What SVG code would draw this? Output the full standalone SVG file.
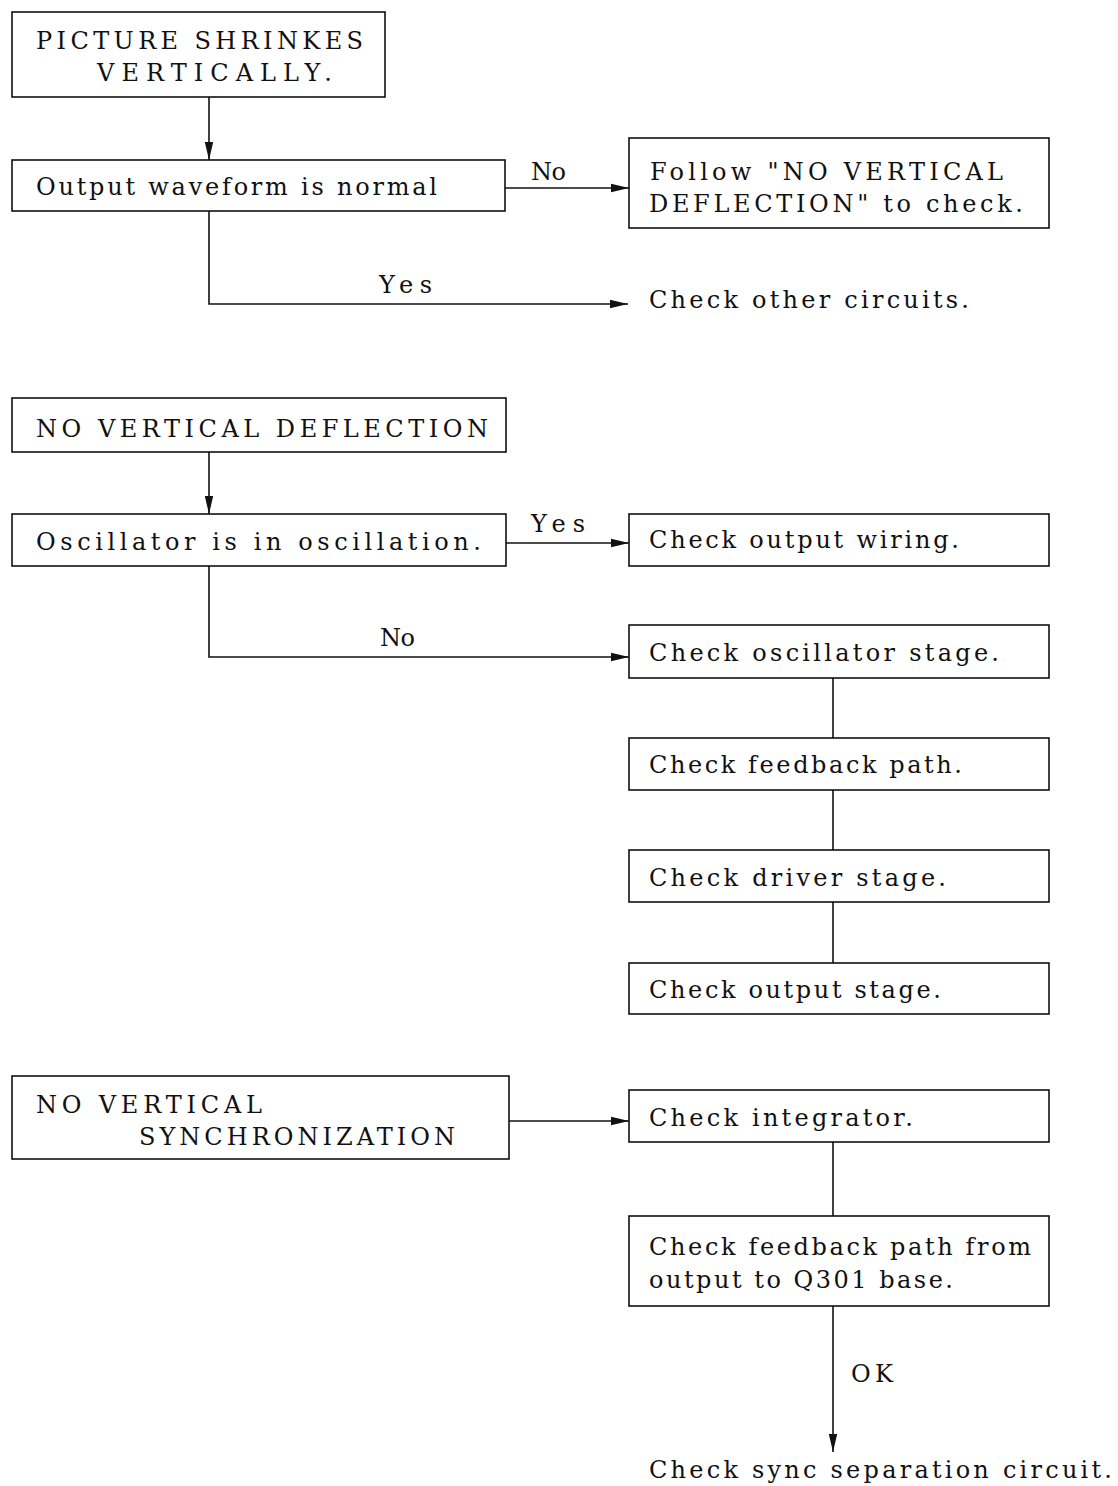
<svg xmlns="http://www.w3.org/2000/svg" width="1118" height="1486" viewBox="0 0 1118 1486">
<style>
  .box { fill: #fff; stroke: #111; stroke-width: 1.6; }
  .t { font-family: "DejaVu Serif", "Liberation Serif", serif; font-size: 24px; fill: #111; }
  .ln { fill: none; stroke: #111; stroke-width: 1.6; }
</style>
<defs>
  <marker id="ah" markerUnits="userSpaceOnUse" markerWidth="20" markerHeight="10" refX="18" refY="5" orient="auto">
    <path d="M0,0.8 L18,5 L0,9.2 z" fill="#111"/>
  </marker>
</defs>
<rect width="1118" height="1486" fill="#fff"/>

<g id="connectors">
  <line class="ln" x1="209" y1="97" x2="209" y2="160" marker-end="url(#ah)"/>
  <line class="ln" x1="505" y1="188" x2="629" y2="188" marker-end="url(#ah)"/>
  <path class="ln" d="M209,211 V304 H628" marker-end="url(#ah)"/>
  <line class="ln" x1="209" y1="452" x2="209" y2="514" marker-end="url(#ah)"/>
  <line class="ln" x1="506" y1="543" x2="629" y2="543" marker-end="url(#ah)"/>
  <path class="ln" d="M209,566 V657 H629" marker-end="url(#ah)"/>
  <line class="ln" x1="833" y1="678" x2="833" y2="738"/>
  <line class="ln" x1="833" y1="790" x2="833" y2="850"/>
  <line class="ln" x1="833" y1="902" x2="833" y2="963"/>
  <line class="ln" x1="509" y1="1121" x2="629" y2="1121" marker-end="url(#ah)"/>
  <line class="ln" x1="833" y1="1142" x2="833" y2="1216"/>
  <line class="ln" x1="833" y1="1306" x2="833" y2="1452" marker-end="url(#ah)"/>
  <text class="t" x="531" y="180" textLength="35" lengthAdjust="spacing">No</text>
  <text class="t" x="379" y="293" textLength="53" lengthAdjust="spacing">Yes</text>
  <text class="t" x="531" y="532" textLength="54" lengthAdjust="spacing">Yes</text>
  <text class="t" x="380" y="646" textLength="35" lengthAdjust="spacing">No</text>
  <text class="t" x="851" y="1382" textLength="42" lengthAdjust="spacing">OK</text>
</g>

<g id="n1">
  <rect class="box" x="12" y="12" width="373" height="85"/>
  <text class="t" x="36" y="49" textLength="327" lengthAdjust="spacing">PICTURE SHRINKES</text>
  <text class="t" x="97" y="81" textLength="235" lengthAdjust="spacing">VERTICALLY.</text>
</g>
<g id="n2">
  <rect class="box" x="12" y="160" width="493" height="51"/>
  <text class="t" x="36" y="195" textLength="401" lengthAdjust="spacing">Output waveform is normal</text>
</g>
<g id="n3">
  <rect class="box" x="629" y="138" width="420" height="90"/>
  <text class="t" x="650" y="180" textLength="353" lengthAdjust="spacing">Follow "NO VERTICAL</text>
  <text class="t" x="649" y="212" textLength="374" lengthAdjust="spacing">DEFLECTION" to check.</text>
</g>
<g id="n4">
  <text class="t" x="649" y="308" textLength="320" lengthAdjust="spacing">Check other circuits.</text>
</g>

<g id="n5">
  <rect class="box" x="12" y="398" width="494" height="54"/>
  <text class="t" x="36" y="437" textLength="452" lengthAdjust="spacing">NO VERTICAL DEFLECTION</text>
</g>
<g id="n6">
  <rect class="box" x="12" y="514" width="494" height="52"/>
  <text class="t" x="36" y="550" textLength="445" lengthAdjust="spacing">Oscillator is in oscillation.</text>
</g>
<g id="n7">
  <rect class="box" x="629" y="514" width="420" height="52"/>
  <text class="t" x="649" y="548" textLength="310" lengthAdjust="spacing">Check output wiring.</text>
</g>
<g id="n8">
  <rect class="box" x="629" y="625" width="420" height="53"/>
  <text class="t" x="649" y="661" textLength="350" lengthAdjust="spacing">Check oscillator stage.</text>
</g>
<g id="n9">
  <rect class="box" x="629" y="738" width="420" height="52"/>
  <text class="t" x="649" y="773" textLength="313" lengthAdjust="spacing">Check feedback path.</text>
</g>
<g id="n10">
  <rect class="box" x="629" y="850" width="420" height="52"/>
  <text class="t" x="649" y="886" textLength="297" lengthAdjust="spacing">Check driver stage.</text>
</g>
<g id="n11">
  <rect class="box" x="629" y="963" width="420" height="51"/>
  <text class="t" x="649" y="998" textLength="292" lengthAdjust="spacing">Check output stage.</text>
</g>

<g id="n12">
  <rect class="box" x="12" y="1076" width="497" height="83"/>
  <text class="t" x="36" y="1113" textLength="226" lengthAdjust="spacing">NO VERTICAL</text>
  <text class="t" x="139" y="1145" textLength="316" lengthAdjust="spacing">SYNCHRONIZATION</text>
</g>
<g id="n13">
  <rect class="box" x="629" y="1090" width="420" height="52"/>
  <text class="t" x="649" y="1126" textLength="264" lengthAdjust="spacing">Check integrator.</text>
</g>
<g id="n14">
  <rect class="box" x="629" y="1216" width="420" height="90"/>
  <text class="t" x="649" y="1255" textLength="382" lengthAdjust="spacing">Check feedback path from</text>
  <text class="t" x="649" y="1288" textLength="304" lengthAdjust="spacing">output to Q301 base.</text>
</g>
<g id="n15">
  <text class="t" x="649" y="1478" textLength="463" lengthAdjust="spacing">Check sync separation circuit.</text>
</g>
</svg>
